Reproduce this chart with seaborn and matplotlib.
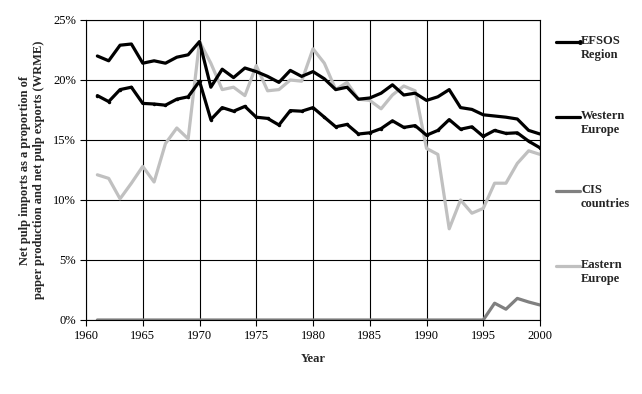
import matplotlib
matplotlib.use('Agg')
import matplotlib.pyplot as plt
from matplotlib.lines import Line2D
import numpy as np
import pandas as pd
import seaborn as sns

sns.set_theme(style="ticks")
plt.rcParams['font.family'] = ['Liberation Serif', 'DejaVu Serif']

years = list(range(1961, 2001))

efsos = [18.7, 18.2, 19.2, 19.4, 18.05, 18.0, 17.9, 18.4, 18.6, 19.9,
         16.7, 17.7, 17.4, 17.8, 16.9, 16.8, 16.25, 17.45, 17.4, 17.7,
         16.9, 16.1, 16.3, 15.5, 15.6, 15.95, 16.6, 16.05, 16.2, 15.4,
         15.8, 16.7, 15.9, 16.1, 15.3, 15.8, 15.55, 15.6, 14.9, 14.35]

western = [22.0, 21.6, 22.9, 23.0, 21.4, 21.6, 21.4, 21.9, 22.1, 23.2,
           19.4, 20.9, 20.2, 21.0, 20.7, 20.3, 19.8, 20.8, 20.3, 20.7,
           20.1, 19.2, 19.4, 18.4, 18.5, 18.9, 19.6, 18.75, 18.9, 18.3,
           18.6, 19.2, 17.7, 17.55, 17.1, 17.0, 16.9, 16.75, 15.8, 15.5]

cis = [0, 0, 0, 0, 0, 0, 0, 0, 0, 0,
       0, 0, 0, 0, 0, 0, 0, 0, 0, 0,
       0, 0, 0, 0, 0, 0, 0, 0, 0, 0,
       0, 0, 0, 0, 0, 1.4, 0.9, 1.8, 1.5, 1.25]

eastern = [12.1, 11.8, 10.1, 11.4, 12.8, 11.5, 14.7, 16.0, 15.1, 23.2,
           21.4, 19.2, 19.4, 18.7, 21.2, 19.1, 19.2, 20.0, 19.9, 22.6,
           21.4, 19.2, 19.8, 18.4, 18.3, 17.6, 18.75, 19.5, 19.1, 14.3,
           13.8, 7.6, 10.0, 8.9, 9.3, 11.4, 11.4, 13.05, 14.1, 13.8]

series = ['EFSOS Region', 'Western Europe', 'CIS countries', 'Eastern Europe']
labels = ['EFSOS\nRegion', 'Western\nEurope', 'CIS\ncountries', 'Eastern\nEurope']
colors = {'EFSOS Region': '#000000', 'Western Europe': '#000000',
          'CIS countries': '#808080', 'Eastern Europe': '#c0c0c0'}

df = pd.DataFrame({'Year': years, 'EFSOS Region': efsos, 'Western Europe': western,
                   'CIS countries': cis, 'Eastern Europe': eastern})
d = df.melt('Year', var_name='series', value_name='value')

fig = plt.figure(figsize=(6.42, 3.94), dpi=100)
ax = fig.add_axes([86/642, 1 - 320/394, 454/642, 300/394])

# draw the light ones first so black sits on top
for name in ['Eastern Europe', 'CIS countries', 'Western Europe', 'EFSOS Region']:
    sub = d[d['series'] == name]
    sns.lineplot(data=sub, x='Year', y='value', color=colors[name], lw=2.3,
                 marker='o' if name == 'EFSOS Region' else None,
                 markersize=2.5, markeredgewidth=0, ax=ax, legend=False)

ax.set_xlim(1960, 2000)
ax.set_ylim(0, 25)
ax.set_xticks(range(1960, 2001, 5))
ax.set_yticks(range(0, 26, 5))
ax.set_yticklabels([f'{v}%' for v in range(0, 26, 5)])
ax.grid(True, color='black', lw=0.8)
ax.set_axisbelow(True)
for s in ax.spines.values():
    s.set_color('black')
    s.set_linewidth(0.8)
ax.tick_params(direction='out', length=4, width=0.8, color='black',
               labelsize=9, labelcolor='black', pad=3)
ax.set_xlabel('Year', fontsize=9, fontweight='bold', labelpad=8)
ax.set_ylabel('Net pulp imports as a proportion of\npaper production and net pulp exports (WRME)',
              fontsize=9, fontweight='bold', labelpad=6)

# legend: handle sits next to the first text line
leg_y = [42, 117, 191, 266]
for name, lab, yy in zip(series, labels, leg_y):
    fy = 1 - yy / 394
    fig.add_artist(Line2D([556/642, 580/642], [fy, fy], color=colors[name], lw=2.3,
                          marker='o' if name == 'EFSOS Region' else None,
                          markersize=2.5, markevery=[1], transform=fig.transFigure))
    fig.text(581/642, fy + 7/394, lab, fontsize=9, fontweight='bold',
             va='top', ha='left', linespacing=1.25)

fig.savefig('out.png', dpi=100)
